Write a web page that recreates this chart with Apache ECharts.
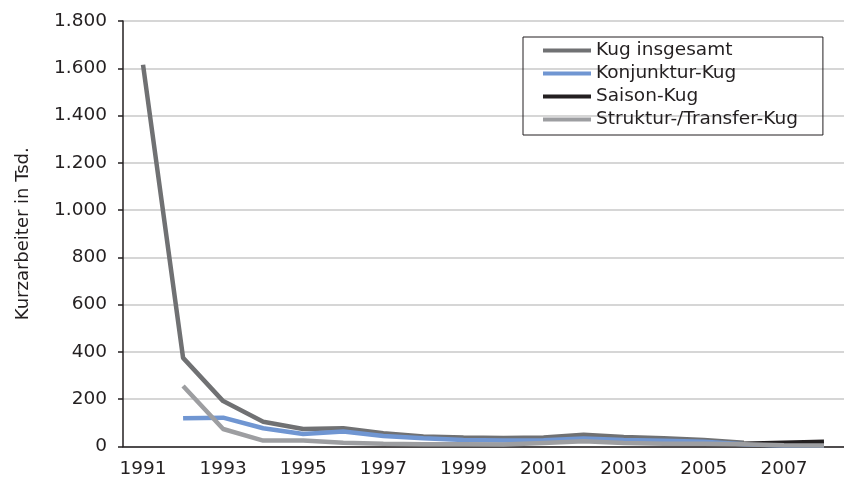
<!DOCTYPE html>
<html>
<head>
<meta charset="utf-8">
<script src="https://cdn.jsdelivr.net/npm/echarts@6/dist/echarts.min.js"></script>
<style>
  html, body { margin: 0; padding: 0; background: #fff; }
  #main { width: 844px; height: 492px; }
</style>
</head>
<body>
<div id="main"></div>
<script>
// Jahre auf der x-Achse
var years = ['1991', '1992', '1993', '1994', '1995', '1996', '1997', '1998', '1999',
  '2000', '2001', '2002', '2003', '2004', '2005', '2006', '2007', '2008']

// Kurzarbeiter in Tsd.
var kugInsgesamt = [1615, 375, 192, 105, 74, 77, 56, 42, 38, 36, 38, 50, 40, 35, 28, 16, null, null]
var konjunkturKug = [null, 119, 122, 77, 53, 63, 44, 35, 28, 25, 26, 34, 28, 24, 20, 10, 4, 4]
var saisonKug = [null, null, null, null, null, null, null, null, null, null, null, null, null, null, null, 12, 16, 20]
var strukturKug = [null, 256, 74, 25, 25, 16, 12, 10, 9, 8, 15, 22, 15, 12, 12, 10, 5, 4]

var seriesNames = ['Kug insgesamt', 'Konjunktur-Kug', 'Saison-Kug', 'Struktur-/Transfer-Kug']
var seriesColors = ['#707173', '#7096d2', '#231f20', '#9d9ea1']

var textColor = '#231f20'
var fontName = 'DejaVu Sans'

var myChart = echarts.init(document.getElementById('main'))

function tausender(v) {
  // deutsches Tausendertrennzeichen
  return String(v).replace(/\B(?=(\d{3})+(?!\d))/g, '.')
}

function makeLine(name, data, color) {
  return {
    name: name,
    type: 'line',
    data: data,
    symbol: 'none',
    color: color,
    lineStyle: { width: 4.5, color: color },
    connectNulls: false
  }
}

var option = {
  animation: false,
  textStyle: { fontFamily: fontName },
  grid: {
    left: 123,
    top: 21,
    width: 725,
    height: 425.5
  },
  legend: {
    orient: 'vertical',
    left: 523,
    top: 37,
    icon: 'rect',
    itemWidth: 48,
    itemHeight: 4,
    itemGap: 0,
    padding: [2, 25, 4, 20],
    borderColor: '#231f20',
    borderWidth: 1,
    textStyle: { fontSize: 18.5, color: textColor, lineHeight: 23, fontFamily: fontName },
    data: seriesNames
  },
  xAxis: {
    type: 'category',
    data: years,
    boundaryGap: true,
    axisLine: { lineStyle: { color: textColor, width: 1.5 } },
    axisTick: { interval: 0, length: 5, lineStyle: { color: textColor, width: 1.5 } },
    axisLabel: { interval: 1, fontSize: 18.5, color: textColor, margin: 13 },
    splitLine: { show: false }
  },
  yAxis: {
    type: 'value',
    min: 0,
    max: 1800,
    interval: 200,
    name: 'Kurzarbeiter in Tsd.',
    nameLocation: 'middle',
    nameGap: 91,
    nameMoveOverlap: false,
    nameTextStyle: { fontSize: 18, color: textColor },
    axisLine: { show: true, lineStyle: { color: textColor, width: 1.5 } },
    axisTick: { show: true, length: 5, lineStyle: { color: textColor, width: 1.5 } },
    axisLabel: { fontSize: 18.5, color: textColor, margin: 16, formatter: tausender },
    splitLine: { lineStyle: { color: '#c8c8c8', width: 1.5 } }
  },
  series: [
    makeLine(seriesNames[0], kugInsgesamt, seriesColors[0]),
    makeLine(seriesNames[1], konjunkturKug, seriesColors[1]),
    makeLine(seriesNames[2], saisonKug, seriesColors[2]),
    makeLine(seriesNames[3], strukturKug, seriesColors[3])
  ]
}

myChart.setOption(option)
</script>
</body>
</html>
